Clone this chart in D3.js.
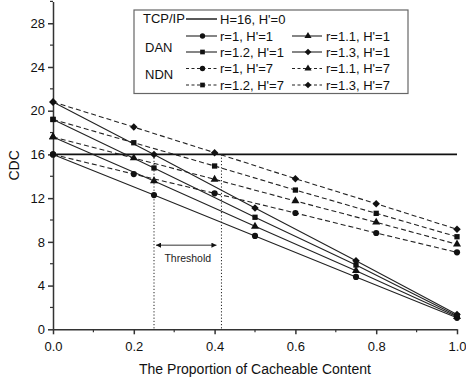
<!DOCTYPE html>
<html>
<head>
<meta charset="utf-8">
<script src="https://cdn.jsdelivr.net/npm/d3@7"></script>
<style>
body { margin: 0; background: white; }
svg { display: block; font-family: Arial, "Liberation Sans", sans-serif; }
</style>
</head>
<body>
<svg></svg>
<script>
// x positions of the two kinds of series
var xH1 = [0, 0.25, 0.5, 0.75, 1.0];
var xH7 = [0, 0.2, 0.4, 0.6, 0.8, 1.0];

// H'=1 (DAN), solid
var danR10 = [16, 12.28, 8.54, 4.79, 1.05];
var danR11 = [17.6, 13.57, 9.42, 5.36, 1.15];
var danR12 = [19.2, 14.76, 10.25, 5.88, 1.25];
var danR13 = [20.8, 16.0, 11.1, 6.28, 1.35];

// H'=7 (NDN), dashed
var ndnR10 = [16, 14.2, 12.44, 10.64, 8.81, 7.04];
var ndnR11 = [17.6, 15.67, 13.72, 11.74, 9.79, 7.78];
var ndnR12 = [19.2, 17.07, 14.94, 12.74, 10.61, 8.47];
var ndnR13 = [20.8, 18.5, 16.16, 13.78, 11.49, 9.15];

var tcpValue = 16;
var thresholdX = [0.25, 0.417];

var xTicks = [0, 0.2, 0.4, 0.6, 0.8, 1.0];
var xMinor = [0.1, 0.3, 0.5, 0.7, 0.9];
var yTicks = [0, 4, 8, 12, 16, 20, 24, 28];
var yMinor = [2, 6, 10, 14, 18, 22, 26, 30];

var svgWidth = 466, svgHeight = 380;

var svg = d3.select('svg')
    .attr('width', svgWidth)
    .attr('height', svgHeight);

svg.append('rect')
    .attr('width', '100%')
    .attr('height', '100%')
    .attr('fill', 'white');

var xScale = d3.scaleLinear()
    .domain([0, 1])
    .range([53, 457]);

var yScale = d3.scaleLinear()
    .domain([0, 30])
    .range([329.3, 1.4]);

// axes
var x_axis = d3.axisBottom(xScale)
    .tickValues(xTicks)
    .tickFormat(d3.format('.1f'))
    .tickSize(5)
    .tickSizeOuter(0);

var y_axis = d3.axisLeft(yScale)
    .tickValues(yTicks)
    .tickFormat(d3.format('d'))
    .tickSize(5)
    .tickSizeOuter(0);

var gx = svg.append('g')
    .attr('transform', 'translate(0,' + yScale(0) + ')')
    .call(x_axis);

var gy = svg.append('g')
    .attr('transform', 'translate(' + xScale(0) + ',0)')
    .call(y_axis);

gx.selectAll('.tick')
    .data(xMinor, function(d) { return d; })
    .enter();

svg.append('g')
    .selectAll('line')
    .data(xMinor)
    .enter().append('line')
    .attr('x1', function(d) { return xScale(d); })
    .attr('x2', function(d) { return xScale(d); })
    .attr('y1', yScale(0))
    .attr('y2', yScale(0) + 3)
    .attr('stroke', '#333')
    .attr('stroke-width', 1.2);

svg.append('g')
    .selectAll('line')
    .data(yMinor)
    .enter().append('line')
    .attr('x1', xScale(0))
    .attr('x2', xScale(0) - 3)
    .attr('y1', function(d) { return yScale(d); })
    .attr('y2', function(d) { return yScale(d); })
    .attr('stroke', '#333')
    .attr('stroke-width', 1.2);

[gx, gy].forEach(function(g) {
    g.selectAll('path, line')
        .attr('stroke', '#333')
        .attr('stroke-width', 1.5);
    g.selectAll('text')
        .attr('font-size', 13)
        .attr('font-family', 'Arial, "Liberation Sans", sans-serif')
        .attr('fill', '#111');
});
gx.selectAll('text').attr('dy', '1.05em');

svg.append('text')
    .attr('x', 255)
    .attr('y', 374)
    .attr('text-anchor', 'middle')
    .attr('font-size', 14)
    .attr('fill', '#111')
    .text('The Proportion of Cacheable Content');

svg.append('text')
    .attr('transform', 'translate(19,' + yScale(15) + ') rotate(-90)')
    .attr('text-anchor', 'middle')
    .attr('font-size', 14)
    .attr('fill', '#111')
    .text('CDC');

// TCP/IP horizontal line
svg.append('line')
    .attr('x1', xScale(0))
    .attr('x2', xScale(1))
    .attr('y1', yScale(tcpValue))
    .attr('y2', yScale(tcpValue))
    .style('stroke', '#111')
    .style('stroke-width', 1.6);

// threshold markers
svg.selectAll('.thr')
    .data(thresholdX)
    .enter().append('line')
    .attr('class', 'thr')
    .attr('x1', function(d) { return xScale(d); })
    .attr('x2', function(d) { return xScale(d); })
    .attr('y1', yScale(tcpValue))
    .attr('y2', yScale(0))
    .style('stroke', '#222')
    .style('stroke-width', 1)
    .style('stroke-dasharray', '1.2,2');

svg.append('defs').append('marker')
    .attr('id', 'head')
    .attr('viewBox', '0 0 10 10')
    .attr('refX', 10)
    .attr('refY', 5)
    .attr('markerWidth', 10)
    .attr('markerHeight', 5)
    .attr('markerUnits', 'userSpaceOnUse')
    .attr('orient', 'auto-start-reverse')
    .append('path')
    .attr('d', 'M0,0L10,5L0,10Z')
    .attr('fill', '#111');

svg.append('line')
    .attr('x1', xScale(thresholdX[0]) + 2)
    .attr('x2', xScale(thresholdX[1]) - 5)
    .attr('y1', yScale(7.7))
    .attr('y2', yScale(7.7))
    .style('stroke', '#777')
    .style('stroke-width', 1.5)
    .attr('marker-start', 'url(#head)')
    .attr('marker-end', 'url(#head)');

svg.append('text')
    .attr('x', (xScale(thresholdX[0]) + xScale(thresholdX[1])) / 2)
    .attr('y', yScale(7.7) + 17)
    .attr('text-anchor', 'middle')
    .attr('font-size', 10.5)
    .attr('fill', '#222')
    .text('Threshold');

// series
var series = [
    { xs: xH1, ys: danR10, sym: 'circle', dash: null },
    { xs: xH1, ys: danR11, sym: 'triangle', dash: null },
    { xs: xH1, ys: danR12, sym: 'square', dash: null },
    { xs: xH1, ys: danR13, sym: 'diamond', dash: null },
    { xs: xH7, ys: ndnR10, sym: 'circle', dash: '5,3' },
    { xs: xH7, ys: ndnR11, sym: 'triangle', dash: '5,3' },
    { xs: xH7, ys: ndnR12, sym: 'square', dash: '5,3' },
    { xs: xH7, ys: ndnR13, sym: 'diamond', dash: '5,3' }
];

function symbolPath(name, size) {
    if (name == 'circle') return d3.symbol().type(d3.symbolCircle).size(size)();
    if (name == 'triangle') return d3.symbol().type(d3.symbolTriangle).size(size)();
    return d3.symbol().type(d3.symbolSquare).size(size)();
}
function symbolRot(name) {
    return name == 'diamond' ? ' rotate(45)' : '';
}

var line = d3.line()
    .x(function(d) { return xScale(d[0]); })
    .y(function(d) { return yScale(d[1]); });

series.forEach(function(s) {
    var pts = s.xs.map(function(x, i) { return [x, s.ys[i]]; });
    svg.append('path')
        .datum(pts)
        .attr('d', line)
        .attr('fill', 'none')
        .style('stroke', '#222')
        .style('stroke-width', 1.1)
        .style('stroke-dasharray', s.dash);
    svg.append('g')
        .selectAll('path')
        .data(pts)
        .enter().append('path')
        .attr('d', symbolPath(s.sym, s.sym == 'circle' ? 30 : 28))
        .attr('transform', function(d) {
            return 'translate(' + xScale(d[0]) + ',' + yScale(d[1]) + ')' + symbolRot(s.sym);
        })
        .attr('fill', '#111');
});

// legend
var legendRows = [19, 36, 52, 68.5, 85];
var legendItems = [
    { row: 0, col: 0, sym: null, dash: null, label: "H=16, H'=0" },
    { row: 1, col: 0, sym: 'circle', dash: null, label: "r=1, H'=1" },
    { row: 1, col: 1, sym: 'triangle', dash: null, label: "r=1.1, H'=1" },
    { row: 2, col: 0, sym: 'square', dash: null, label: "r=1.2, H'=1" },
    { row: 2, col: 1, sym: 'diamond', dash: null, label: "r=1.3, H'=1" },
    { row: 3, col: 0, sym: 'circle', dash: '3,2.5', label: "r=1, H'=7" },
    { row: 3, col: 1, sym: 'triangle', dash: '3,2.5', label: "r=1.1, H'=7" },
    { row: 4, col: 0, sym: 'square', dash: '3,2.5', label: "r=1.2, H'=7" },
    { row: 4, col: 1, sym: 'diamond', dash: '3,2.5', label: "r=1.3, H'=7" }
];
var groupLabels = [
    { y: 23, label: 'TCP/IP', x: 143 },
    { y: 52, label: 'DAN', x: 145 },
    { y: 79, label: 'NDN', x: 145 }
];
var colLine = [[186, 217], [292, 322]];
var colText = [220, 326];

var legend = svg.append('g');

legend.append('rect')
    .attr('x', 134)
    .attr('y', 10)
    .attr('width', 274)
    .attr('height', 83.5)
    .attr('fill', 'white')
    .attr('stroke', '#666')
    .attr('stroke-width', 1.2);

legend.selectAll('.grp')
    .data(groupLabels)
    .enter().append('text')
    .attr('x', function(d) { return d.x; })
    .attr('y', function(d) { return d.y; })
    .attr('font-size', 13)
    .attr('fill', '#111')
    .text(function(d) { return d.label; });

legendItems.forEach(function(it) {
    var y = legendRows[it.row];
    var x1 = colLine[it.col][0], x2 = colLine[it.col][1];
    legend.append('line')
        .attr('x1', x1)
        .attr('x2', x2)
        .attr('y1', y)
        .attr('y2', y)
        .style('stroke', '#222')
        .style('stroke-width', it.sym ? 1.1 : 1.5)
        .style('stroke-dasharray', it.dash);
    if (it.sym) {
        legend.append('path')
            .attr('d', symbolPath(it.sym, 22))
            .attr('transform', 'translate(' + ((x1 + x2) / 2 + 1) + ',' + y + ')' + symbolRot(it.sym))
            .attr('fill', '#111');
    }
    legend.append('text')
        .attr('x', colText[it.col])
        .attr('y', y + 4.5)
        .attr('font-size', 13)
        .attr('fill', '#111')
        .text(it.label);
});
</script>
</body>
</html>
